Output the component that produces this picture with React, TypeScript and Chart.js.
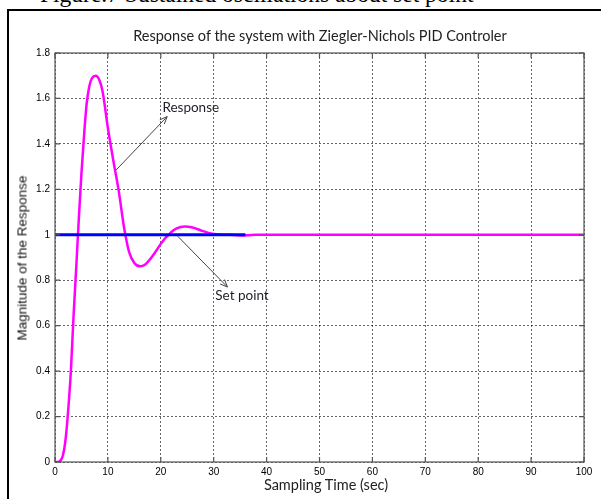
import { useEffect, useRef } from "react";
import { Chart, registerables } from "chart.js";

Chart.register(...registerables);

// ---- Data ----
const responseTime = [0, 0.5, 1, 1.5, 2, 2.5, 3, 3.5, 4, 4.5, 5, 5.5, 6, 6.5, 7, 7.7, 8.4, 9, 10, 11, 12, 13, 13.3, 14, 15, 16.1, 17, 18, 19, 20, 21, 21.5, 22, 23, 24.5, 26, 27.5, 29, 30.5, 33, 35, 36.5, 38, 50, 60, 70, 80, 90, 100];
const responseValue = [0, 0, 0.005, 0.03, 0.1, 0.23, 0.4, 0.64, 0.85, 1.07, 1.27, 1.44, 1.58, 1.655, 1.69, 1.70, 1.68, 1.63, 1.47, 1.33, 1.2, 1.04, 1.0, 0.925, 0.876, 0.861, 0.868, 0.893, 0.925, 0.96, 0.99, 1.0, 1.012, 1.028, 1.036, 1.032, 1.02, 1.008, 1.002, 1.0, 0.997, 0.998, 1.0, 1.0, 1.0, 1.0, 1.0, 1.0, 1.0];

const setPointTime = [0, 36];
const setPointValue = [1, 1];

const xTicks = [0, 10, 20, 30, 40, 50, 60, 70, 80, 90, 100];
const yTicks = [0, 0.2, 0.4, 0.6, 0.8, 1, 1.2, 1.4, 1.6, 1.8];
const yTickLabels = ["0", "0.2", "0.4", "0.6", "0.8", "1", "1.2", "1.4", "1.6", "1.8"];

const annotations = [
  { label: "Response", textT: 20.3, textV: 1.56, fromT: 11.55, fromV: 1.285, toT: 21.2, toV: 1.52 },
  { label: "Set point", textT: 30.3, textV: 0.73, fromT: 23.1, fromV: 0.996, toT: 32.6, toV: 0.77 },
];

const CALIBRI = "Lato, 'Open Sans', sans-serif";
const ARIAL = "'Liberation Sans', Arial, sans-serif";

const boxPlugin = {
  id: "matlabBox",
  afterDatasetsDraw(chart: any) {
    const { ctx, chartArea: a, scales } = chart;
    const xs = scales.x;
    const ys = scales.y;
    ctx.save();
    ctx.strokeStyle = "#555";
    ctx.lineWidth = 1.2;
    ctx.setLineDash([]);
    ctx.strokeRect(a.left, a.top, a.right - a.left, a.bottom - a.top);
    ctx.beginPath();
    const tl = 5;
    xTicks.forEach((t) => {
      const px = xs.getPixelForValue(t);
      ctx.moveTo(px, a.bottom);
      ctx.lineTo(px, a.bottom - tl);
      ctx.moveTo(px, a.top);
      ctx.lineTo(px, a.top + tl);
    });
    yTicks.forEach((v) => {
      const py = ys.getPixelForValue(v);
      ctx.moveTo(a.left, py);
      ctx.lineTo(a.left + tl, py);
      ctx.moveTo(a.right, py);
      ctx.lineTo(a.right - tl, py);
    });
    ctx.stroke();

    annotations.forEach((an) => {
      const x1 = xs.getPixelForValue(an.fromT);
      const y1 = ys.getPixelForValue(an.fromV);
      const x2 = xs.getPixelForValue(an.toT);
      const y2 = ys.getPixelForValue(an.toV);
      ctx.strokeStyle = "#444";
      ctx.lineWidth = 1;
      ctx.beginPath();
      ctx.moveTo(x1, y1);
      ctx.lineTo(x2, y2);
      const ang = Math.atan2(y2 - y1, x2 - x1);
      const hl = 8;
      ctx.moveTo(x2, y2);
      ctx.lineTo(x2 - hl * Math.cos(ang - 0.4), y2 - hl * Math.sin(ang - 0.4));
      ctx.moveTo(x2, y2);
      ctx.lineTo(x2 - hl * Math.cos(ang + 0.4), y2 - hl * Math.sin(ang + 0.4));
      ctx.stroke();
      ctx.fillStyle = "#1e1e28";
      ctx.font = `13.5px ${CALIBRI}`;
      ctx.textAlign = "left";
      ctx.textBaseline = "middle";
      ctx.fillText(an.label, xs.getPixelForValue(an.textT), ys.getPixelForValue(an.textV));
    });
    ctx.restore();
  },
};

export default function App() {
  const ref = useRef<HTMLCanvasElement | null>(null);

  useEffect(() => {
    if (!ref.current) return;
    const chart = new Chart(ref.current, {
      type: "line",
      data: {
        datasets: [
          {
            label: "Set point",
            data: setPointTime.map((t, i) => ({ x: t, y: setPointValue[i] })),
            borderColor: "#0000ff",
            borderWidth: 3,
            pointRadius: 0,
            order: 0,
          },
          {
            label: "Response",
            data: responseTime.map((t, i) => ({ x: t, y: responseValue[i] })),
            borderColor: "#ff00ff",
            borderWidth: 2.5,
            pointRadius: 0,
            cubicInterpolationMode: "monotone",
            order: 1,
          },
        ],
      },
      options: {
        animation: false,
        responsive: true,
        maintainAspectRatio: false,
        layout: { padding: { left: 0, top: 53, right: 17, bottom: 0 } },
        plugins: { legend: { display: false }, tooltip: { enabled: false }, title: { display: false } },
        scales: {
          x: {
            type: "linear",
            min: 0,
            max: 100,
            afterBuildTicks: (s: any) => {
              s.ticks = xTicks.map((v) => ({ value: v }));
            },
            afterFit: (s: any) => {
              s.height = 37;
            },
            border: { display: false, dash: [2, 2] },
            grid: { color: "rgba(0,0,0,0.6)", lineWidth: 1, drawTicks: false },
            ticks: {
              padding: 4,
              color: "#000",
              font: { family: ARIAL, size: 10 },
              maxRotation: 0,
              callback: (v: any) => String(v),
            },
          },
          y: {
            type: "linear",
            min: 0,
            max: 1.8,
            afterBuildTicks: (s: any) => {
              s.ticks = yTicks.map((v) => ({ value: v }));
            },
            afterFit: (s: any) => {
              s.width = 55;
            },
            border: { display: false, dash: [2, 2] },
            grid: { color: "rgba(0,0,0,0.6)", lineWidth: 1, drawTicks: false },
            ticks: {
              padding: 5,
              color: "#000",
              font: { family: ARIAL, size: 10 },
              callback: (v: any) => {
                const i = yTicks.findIndex((t) => Math.abs(t - v) < 1e-6);
                return i >= 0 ? yTickLabels[i] : "";
              },
            },
          },
        },
      },
      plugins: [boxPlugin],
    } as any);
    return () => chart.destroy();
  }, []);

  return (
    <div style={{ position: "absolute", left: 0, top: 0, width: 601, height: 499, overflow: "hidden", background: "#fff" }}>
      <div
        style={{
          position: "absolute",
          left: 40,
          top: -17,
          fontFamily: "'Liberation Serif', 'Times New Roman', serif",
          fontSize: 23.5,
          lineHeight: 1,
          whiteSpace: "nowrap",
          color: "#000",
        }}
      >
        Figure.7 Sustained oscillations about set point
      </div>
      <div style={{ position: "absolute", left: 7, top: 9, width: 594, height: 490, borderTop: "2.5px solid #000", borderLeft: "2.5px solid #000", boxSizing: "border-box" }} />
      <div style={{ position: "absolute", left: 0, top: 0, width: 601, height: 499 }}>
        <canvas ref={ref} />
      </div>
      <div
        style={{
          position: "absolute",
          left: 320,
          top: 29,
          transform: "translateX(-50%)",
          fontFamily: CALIBRI,
          fontSize: 14.5,
          lineHeight: 1,
          color: "#222",
          whiteSpace: "nowrap",
        }}
      >
        Response of the system with Ziegler-Nichols PID Controler
      </div>
      <div
        style={{
          position: "absolute",
          left: 326,
          top: 478,
          transform: "translateX(-50%)",
          fontFamily: CALIBRI,
          fontSize: 14.5,
          lineHeight: 1,
          color: "#222",
          whiteSpace: "nowrap",
        }}
      >
        Sampling Time (sec)
      </div>
      <div
        style={{
          position: "absolute",
          left: 22,
          top: 258,
          transform: "translate(-50%, -50%) rotate(-90deg)",
          fontFamily: ARIAL,
          fontSize: 13.5,
          color: "#111",
          whiteSpace: "nowrap",
        }}
      >
        Magnitude of the Response
      </div>
    </div>
  );
}
